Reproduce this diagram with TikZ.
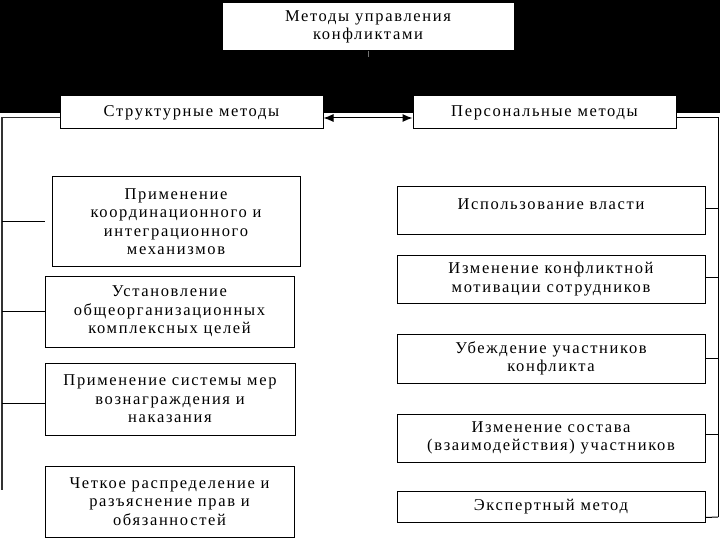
\documentclass[tikz,border=0pt]{standalone}
\usepackage{fontspec}
\setmainfont[LetterSpace=10]{Liberation Serif}
\usetikzlibrary{arrows.meta}
\tikzset{
  box/.style={draw=black, line width=1pt, fill=white, inner sep=0pt, align=center,
    font=\fontsize{16.5}{18.5}\selectfont},
  conn/.style={draw=black, line width=1pt},
  tip/.style={Latex[length=10pt,width=8pt]},
}
\begin{document}
\begin{tikzpicture}[x=1pt,y=-1pt]
\useasboundingbox (0,0) rectangle (720,540);
\fill[black] (0,0) rectangle (720,113);
% top
\node[box, minimum width=292pt, minimum height=48pt] (top) at (368,27) {Методы управления\\конфликтами};
\coordinate (tick) at (368,57);
\draw[black!55, line width=0.8pt] (top.south) -- (tick);
% level 2
\node[box, minimum width=263pt, minimum height=33pt] (str) at (191.5,112.5) {Структурные методы};
\node[box, minimum width=263pt, minimum height=33pt] (per) at (544.5,112.5) {Персональные методы};
\draw[conn, {Latex[length=10pt,width=8pt]}-{Latex[length=10pt,width=8pt]}] ([yshift=-5.5pt]str.east) -- ([yshift=-5.5pt]per.west);
% left
\coordinate (ltop) at (2,117.5);
\coordinate (lbot) at (2,490);
\node[box, minimum width=248pt, minimum height=89pt] (l1) at (176,221.5) {Применение\\координационного и\\интеграционного\\механизмов};
\node[box, minimum width=249pt, minimum height=71pt] (l2) at (169.5,311.5) {Установление\\общеорганизационных\\комплексных целей};
\node[box, minimum width=250pt, minimum height=72pt] (l3) at (170,399) {Применение системы мер\\вознаграждения и\\наказания};
\node[box, minimum width=249pt, minimum height=71pt] (l4) at (169.5,501.5) {Четкое распределение и\\разъяснение прав и\\обязанностей};
\draw[conn, black!80, line width=1.3pt] ([yshift=-5pt]str.west) -- (ltop) -- (lbot);
\draw[conn] (ltop |- l1) -- ([xshift=-7pt]l1.west);
\draw[conn] (ltop |- l2) -- (l2.west);
\draw[conn] ([yshift=-4pt]ltop |- l3) -- ([yshift=-4pt]l3.west);
% right
\coordinate (rtop) at (718,117.5);
\coordinate (rbot) at (718,517);
\node[box, minimum width=308pt, minimum height=47pt] (r1) at (551,210.5) {Использование власти\\[-5pt]\mbox{}};
\node[box, minimum width=308pt, minimum height=48pt] (r2) at (551,279) {Изменение конфликтной\\мотивации сотрудников};
\node[box, minimum width=308pt, minimum height=49pt] (r3) at (551,358.5) {Убеждение участников\\конфликта};
\node[box, minimum width=308pt, minimum height=48pt] (r4) at (551,438) {Изменение состава\\(взаимодействия) участников};
\node[box, minimum width=308pt, minimum height=31pt] (r5) at (551,506.5) {Экспертный метод};
\draw[conn] ([yshift=-5pt]per.east) -- (rtop) -- (rbot);
\draw[conn] ([yshift=2pt]r1.east) -- ([yshift=2pt]rtop |- r1);
\draw[conn] ([yshift=2pt]r2.east) -- ([yshift=2pt]rtop |- r2);
\draw[conn] (r3.east) -- (rtop |- r3);
\draw[conn] ([yshift=4pt]r4.east) -- ([yshift=4pt]rtop |- r4);
\draw[conn] ([yshift=5pt]r5.south east) -- (rbot);
\end{tikzpicture}
\end{document}
